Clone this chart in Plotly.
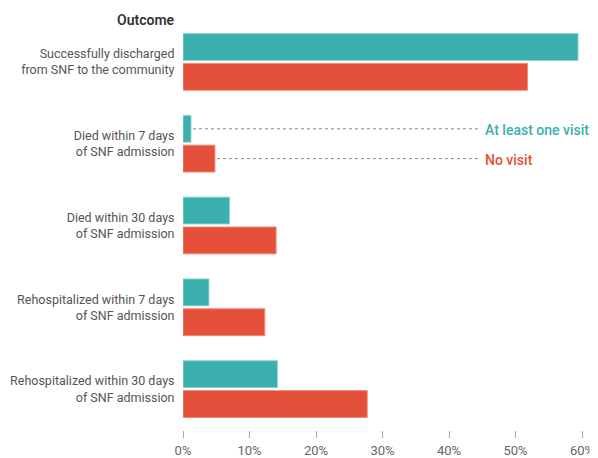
import plotly.graph_objects as go

categories = [
    "Successfully discharged<br>from SNF to the community",
    "Died within 7 days<br>of SNF admission",
    "Died within 30 days<br>of SNF admission",
    "Rehospitalized within 7 days<br>of SNF admission",
    "Rehospitalized within 30 days<br>of SNF admission",
]
at_least_one_visit = [59.4, 1.2, 7.0, 3.9, 14.2]
no_visit = [51.8, 4.8, 14.0, 12.3, 27.7]
x_ticks = [0, 10, 20, 30, 40, 50, 60]
x_tick_labels = ["0%", "10%", "20%", "30%", "40%", "50%", "60%"]

TEAL = "#3BAEAE"
RED = "#E45039"
FONT = "Roboto"

fig = go.Figure()
fig.add_trace(go.Bar(
    y=categories, x=at_least_one_visit, orientation="h", name="At least one visit",
    marker=dict(color=TEAL, line=dict(color="#8FD3D2", width=1)),
))
fig.add_trace(go.Bar(
    y=categories, x=no_visit, orientation="h", name="No visit",
    marker=dict(color=RED, line=dict(color="#F08A7A", width=1)),
))

bargap = 0.27
slot = (1 - bargap) / 2
# dashed leader lines for the legend, from the "Died within 7 days" bars
idx = 1
fig.add_shape(type="line", xref="x", yref="y",
              x0=at_least_one_visit[idx] + 0.3, x1=44.8,
              y0=idx - slot / 2, y1=idx - slot / 2,
              line=dict(color="#8a8a8a", width=1, dash="3px,3px"))
fig.add_shape(type="line", xref="x", yref="y",
              x0=no_visit[idx] + 0.3, x1=44.8,
              y0=idx + slot / 2, y1=idx + slot / 2,
              line=dict(color="#8a8a8a", width=1, dash="3px,3px"))
fig.add_annotation(x=45.1, y=idx - slot / 2, xref="x", yref="y", text="At least one visit",
                   showarrow=False, xanchor="left", yanchor="middle", yshift=-1,
                   font=dict(family=FONT, size=14, color=TEAL, weight=500))
fig.add_annotation(x=45.1, y=idx + slot / 2, xref="x", yref="y", text="No visit",
                   showarrow=False, xanchor="left", yanchor="middle", yshift=-1,
                   font=dict(family=FONT, size=14, color=RED, weight=500))
fig.add_annotation(x=0, y=1, xref="paper", yref="paper", text="Outcome",
                   showarrow=False, xanchor="right", yanchor="middle", xshift=-6, yshift=1,
                   font=dict(family=FONT, size=14, color="#333333", weight=600))

# the page body has an 8px default margin, so the figure is drawn 8px smaller
fig.update_layout(
    width=590, height=450,
    margin=dict(l=175, r=16, t=13, b=28),
    paper_bgcolor="white", plot_bgcolor="white",
    barmode="group", bargap=bargap, bargroupgap=0.1,
    showlegend=False,
    font=dict(family=FONT, size=12.5, color="#555555"),
    xaxis=dict(range=[0, 60], tickvals=x_ticks, ticktext=x_tick_labels, automargin=False,
               showgrid=False, zeroline=False, showline=False,
               ticks="outside", ticklen=7, tickcolor="#aaaaaa", tickwidth=1,
               ticklabelstandoff=1,
               tickfont=dict(family=FONT, size=13, color="#666666")),
    yaxis=dict(autorange="reversed", automargin=False,
               showgrid=False, zeroline=False, showline=False,
               ticks="outside", ticklen=5, tickcolor="rgba(0,0,0,0)",
               tickfont=dict(family=FONT, size=12.5, color="#555555")),
)

fig.write_html("out.html")
